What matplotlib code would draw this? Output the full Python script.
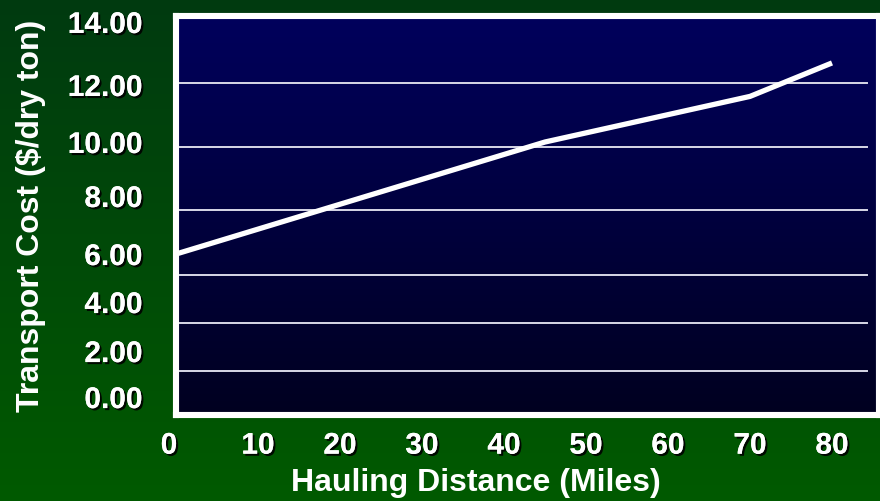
import numpy as np
import matplotlib
matplotlib.use("Agg")
import matplotlib.pyplot as plt
import matplotlib.patheffects as pe
from matplotlib.colors import LinearSegmentedColormap
from matplotlib.transforms import ScaledTranslation

# data
distance = [0, 45, 70, 80]          # miles
cost = [6.0, 10.0, 11.6, 12.7]      # $/dry ton
x_ticks = [0, 10, 20, 30, 40, 50, 60, 70, 80]
y_ticks = [0, 2, 4, 6, 8, 10, 12, 14]

# the original axis is not evenly spaced: map value -> pixel height above axis bottom
scale_vals = [-10, 0, 2, 4, 6, 8, 10, 12, 14, 30]
scale_px = [-212, 18, 64, 113, 161, 219, 273, 330, 393, 897]

def fwd(v):
    return np.interp(v, scale_vals, scale_px)

def inv(p):
    return np.interp(p, scale_px, scale_vals)

plt.rcParams['font.family'] = ['Liberation Sans', 'DejaVu Sans']
plt.rcParams['font.weight'] = 'bold'

W, H = 880, 502
fig = plt.figure(figsize=(W / 100, H / 100), dpi=100)

# green background gradient
bg = fig.add_axes([0, 0, 1, 1], zorder=-10)
green = LinearSegmentedColormap.from_list('g', ['#003a10', '#005a00'])
bg.imshow(np.linspace(0, 1, 256).reshape(-1, 1), aspect='auto', cmap=green,
          extent=[0, 1, 0, 1])
bg.set_axis_off()

left, right, top, bottom = 176, 879, 17, 416
ax = fig.add_axes([left / W, 1 - bottom / H, (right - left) / W, (bottom - top) / H])
ax.set_yscale('function', functions=(fwd, inv))
ax.set_xlim(0, (right - left) / 8.2)
ax.set_ylim(-0.78, 14.19)

# navy plot area gradient
navy = LinearSegmentedColormap.from_list('n', ['#000020', '#00005c'])
ax.imshow(np.linspace(0, 1, 256).reshape(-1, 1), aspect='auto', cmap=navy,
          extent=[0, 1, 0, 1], transform=ax.transAxes, origin='lower', zorder=0)

# gridlines (drawn where the original has them)
grid_frac = np.array([44, 92, 140, 205, 268, 332]) / (bottom - top)
for g in grid_frac:
    ax.plot([0, 0.983], [g, g], transform=ax.transAxes, color='#d8d8e8',
            lw=1.4, zorder=1)

ax.plot(distance, cost, color='white', lw=3.8, solid_capstyle='butt', zorder=3)

for s in ax.spines.values():
    s.set_color('white')
    s.set_linewidth(4.4)
    s.set_zorder(4)

shadow = [pe.withSimplePatchShadow(offset=(1.5, -1.5), shadow_rgbFace='black', alpha=0.9),
          pe.Normal()]

ax.set_xticks(x_ticks)
ax.set_xticklabels([str(v) for v in x_ticks])
ax.set_yticks(y_ticks)
ax.set_yticklabels(['%.2f' % v for v in y_ticks])
ax.tick_params(axis='both', length=0, colors='white', labelsize=21.5)
ax.tick_params(axis='y', pad=24)
ax.tick_params(axis='x', pad=12)
for lab in ax.get_xticklabels() + ax.get_yticklabels():
    lab.set_path_effects(shadow)
    lab.set_fontweight('bold')
# the "0" label sits a little left of the frame in the original
zero = ax.xaxis.get_major_ticks()[0].label1
zero.set_transform(zero.get_transform() + ScaledTranslation(-0.07, 0, fig.dpi_scale_trans))

ax.set_xlabel('Hauling Distance (Miles)', color='white', fontsize=23,
              fontweight='bold', va='center')
ax.xaxis.set_label_coords((476 - left) / (right - left), (bottom - 483) / (bottom - top))
ax.set_ylabel('Transport Cost ($/dry ton)', color='white', fontsize=23,
              fontweight='bold', va='center')
ax.yaxis.set_label_coords((31 - left) / (right - left), (bottom - 216) / (bottom - top))

fig.savefig('out.png', dpi=100)
